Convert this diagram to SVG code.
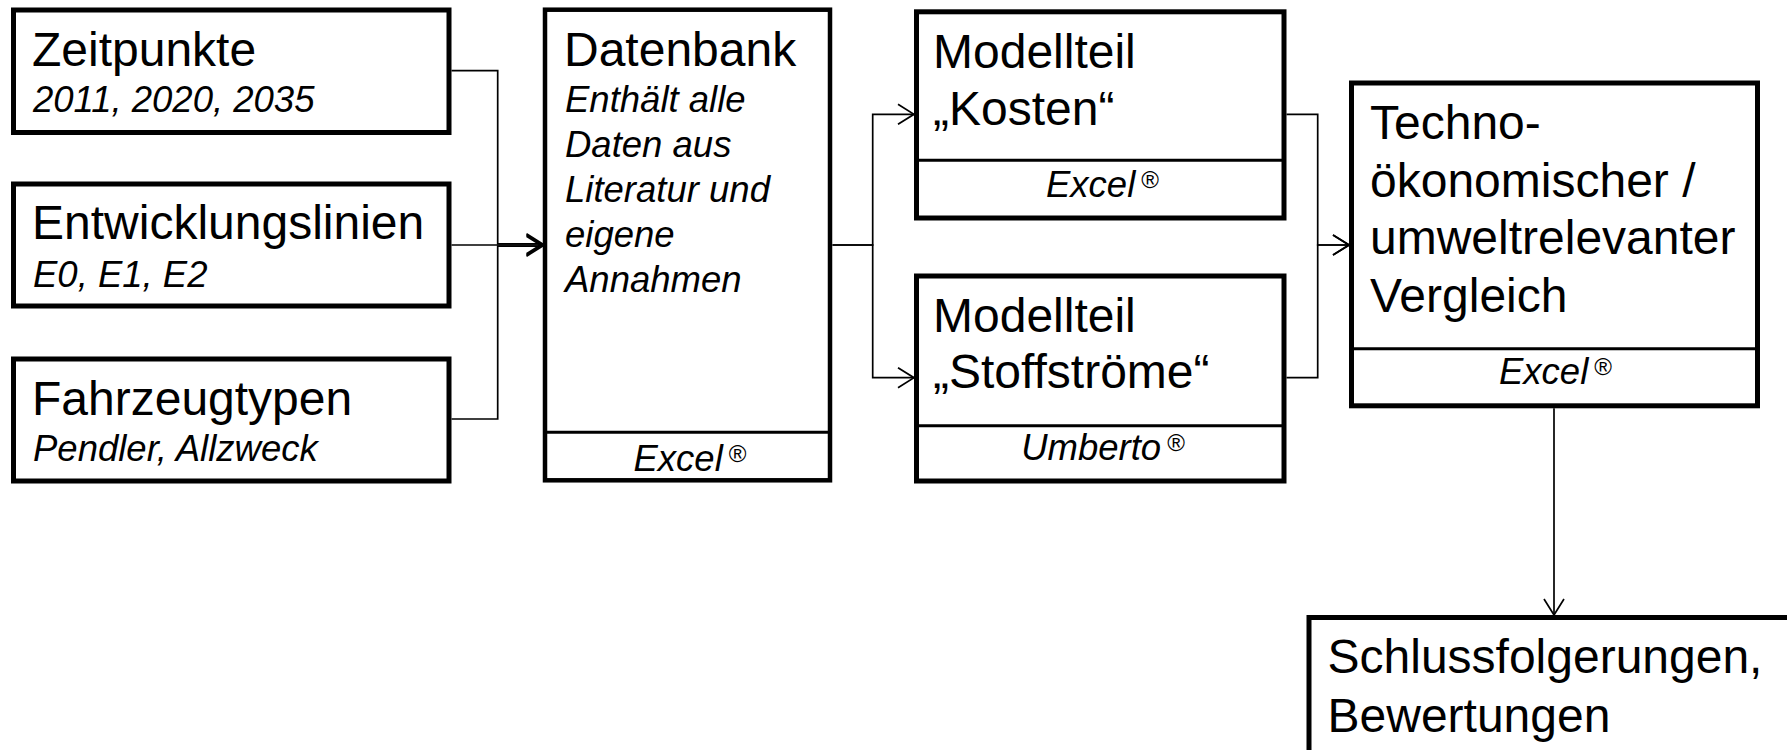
<svg xmlns="http://www.w3.org/2000/svg" width="1787" height="750" viewBox="0 0 1787 750">
<style>
.box{fill:#fff;stroke:#000;stroke-width:5}
.div{stroke:#000;stroke-width:3}
.t{font-family:"Liberation Sans",Arial,sans-serif;font-size:48px;fill:#000}
.s{font-family:"Liberation Sans",Arial,sans-serif;font-size:36.5px;font-style:italic;fill:#000}
.r{font-size:24px;font-style:normal}
.c{fill:none;stroke:#000;stroke-width:1.7}
</style>
<defs>
<marker id="arr" viewBox="0 0 18 22" refX="17" refY="11" markerWidth="18" markerHeight="22" markerUnits="userSpaceOnUse" orient="auto">
<path d="M1,1 L17,11 L1,21" fill="none" stroke="#000" stroke-width="1.7"/>
</marker>
</defs>
<rect width="1787" height="750" fill="#fff"/>
<g id="connectors">
<path class="c" d="M451.5,70.7 H497.7 V243.8 H542.5" marker-end="url(#arr)"/>
<path class="c" d="M451.5,245 H542.5" marker-end="url(#arr)"/>
<path class="c" d="M451.5,419 H497.7 V246.2 H542.5" marker-end="url(#arr)"/>
<path class="c" d="M832.5,245 H872.7 V114.3 H914" marker-end="url(#arr)"/>
<path class="c" d="M832.5,245 H872.7 V377.7 H914" marker-end="url(#arr)"/>
<path class="c" d="M1286.5,114.3 H1317.7 V245 H1349" marker-end="url(#arr)"/>
<path class="c" d="M1286.5,377.7 H1317.7 V245 H1349" marker-end="url(#arr)"/>
<path class="c" d="M1554,408.3 V615" marker-end="url(#arr)"/>
</g>
<g id="zeitpunkte">
<rect class="box" x="13.5" y="10" width="435.5" height="122.5"/>
<text class="t" x="32" y="65.7">Zeitpunkte</text>
<text class="s" x="33" y="111.7">2011, 2020, 2035</text>
</g>
<g id="entwicklungslinien">
<rect class="box" x="13.5" y="184" width="435.5" height="122"/>
<text class="t" x="32" y="238.5">Entwicklungslinien</text>
<text class="s" x="33" y="286.7">E0, E1, E2</text>
</g>
<g id="fahrzeugtypen">
<rect class="box" x="13.5" y="359" width="435.5" height="122"/>
<text class="t" x="32" y="415">Fahrzeugtypen</text>
<text class="s" x="33" y="461">Pendler, Allzweck</text>
</g>
<g id="datenbank">
<rect class="box" x="545" y="9.7" width="285" height="470.6" style="stroke-width:4.5"/>
<line class="div" x1="545" y1="432.3" x2="830" y2="432.3"/>
<text class="t" x="564" y="65.7">Datenbank</text>
<text class="s" x="565" y="111.7">Enthält alle</text>
<text class="s" x="565" y="156.7">Daten aus</text>
<text class="s" x="565" y="202">Literatur und</text>
<text class="s" x="565" y="246.7">eigene</text>
<text class="s" x="565" y="291.7">Annahmen</text>
<text class="s" x="690" y="471" text-anchor="middle">Excel<tspan class="r" dx="6" dy="-9">®</tspan></text>
</g>
<g id="kosten">
<rect class="box" x="916.5" y="11.8" width="367.5" height="206.2"/>
<line class="div" x1="916.5" y1="160.3" x2="1284" y2="160.3"/>
<text class="t" x="933" y="68.3">Modellteil</text>
<text class="t" x="933" y="125">„Kosten“</text>
<text class="s" x="1102.5" y="197.3" text-anchor="middle">Excel<tspan class="r" dx="6" dy="-9">®</tspan></text>
</g>
<g id="stoffstroeme">
<rect class="box" x="916.5" y="276" width="367.5" height="205"/>
<line class="div" x1="916.5" y1="425.7" x2="1284" y2="425.7"/>
<text class="t" x="933" y="331.7">Modellteil</text>
<text class="t" x="933" y="387.7">„Stoffströme“</text>
<text class="s" x="1103" y="460" text-anchor="middle">Umberto<tspan class="r" dx="6" dy="-9">®</tspan></text>
</g>
<g id="vergleich">
<rect class="box" x="1351.5" y="83" width="406" height="322.8"/>
<line class="div" x1="1351.5" y1="348.7" x2="1757.5" y2="348.7"/>
<text class="t" x="1370" y="139">Techno-</text>
<text class="t" x="1370" y="196.5">ökonomischer /</text>
<text class="t" x="1370" y="254">umweltrelevanter</text>
<text class="t" x="1370" y="311.5">Vergleich</text>
<text class="s" x="1555.5" y="384" text-anchor="middle">Excel<tspan class="r" dx="6" dy="-9">®</tspan></text>
</g>
<g id="schlussfolgerungen">
<rect class="box" x="1309" y="617.5" width="520" height="200"/>
<text class="t" x="1327.5" y="673.3">Schlussfolgerungen,</text>
<text class="t" x="1327.5" y="731.7">Bewertungen</text>
</g>
</svg>
